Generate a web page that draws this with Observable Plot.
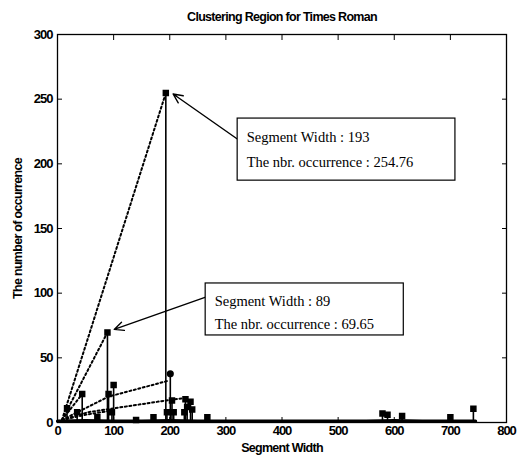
<!DOCTYPE html>
<html>
<head>
<meta charset="utf-8">
<script src="https://cdn.jsdelivr.net/npm/d3@7"></script>
<script src="https://cdn.jsdelivr.net/npm/@observablehq/plot@0.6"></script>
<style>
  body { margin: 0; background: #fff; }
  .narrow text, text.narrow, g.narrow text { letter-spacing: -0.7px; }
  .ticklab text { letter-spacing: -1px; }
</style>
</head>
<body>
<div id="chart"></div>
<script>
// ---- data ----
const title = "Clustering Region for Times Roman";
const xLabel = "Segment Width";
const yLabel = "The number of occurrence";
const xTicks = [0, 100, 200, 300, 400, 500, 600, 700, 800];
const yTicks = [0, 50, 100, 150, 200, 250, 300];

// stems (segment width, occurrence)
const stemX = [193, 89, 201, 44, 35, 17, 71, 91, 100, 97, 195, 204, 228, 237, 231, 240, 226, 207, 171, 267, 579, 588, 614, 700, 741, 140];
const stemY = [254.76, 69.65, 37.6, 22, 8, 11, 4, 22, 29, 8, 8, 17, 18, 16, 12, 10, 8, 8, 4, 4, 7, 6, 5, 4, 10.6, 2];
const stemShape = ["square","square","circle","square","square","square","square","square","square","square","square","square","square","square","square","square","square","square","square","square","square","square","square","square","square","square"];

// near-zero background counts (thick baseline)
const baseX = [0, 50, 100, 150, 200, 250, 300, 350, 400, 450, 500, 550, 600, 650, 700, 745];
const baseY = [1, 1.5, 1, 1, 1.5, 1, 1, 1, 1, 1, 1, 1, 1.5, 1, 1, 1];

// dotted cluster lines: id, x, y
const lineId = [1, 1, 2, 2, 3, 3, 4, 4, 4, 5, 5, 5, 5, 6, 6, 6];
const lineX  = [8, 193, 8, 89, 8, 44, 8, 91, 195, 8, 55, 193, 228, 8, 50, 93];
const lineY  = [2, 254.76, 2, 69.65, 2, 22, 2, 20, 32, 2, 8, 17, 19, 2, 6, 9];

// annotation boxes
const boxX1 = [321, 264];
const boxX2 = [709, 617];
const boxY1 = [235, 107.5];
const boxY2 = [187, 67.3];
const boxTextX = [337, 280];
const boxLine1 = ["Segment Width : 193", "Segment Width : 89"];
const boxLine2 = ["The nbr. occurrence : 254.76", "The nbr. occurrence : 69.65"];
const boxLine1Y = [220.5, 94];
const boxLine2Y = [201.5, 76];

// arrows from boxes to points
const arrX1 = [321, 264];
const arrY1 = [219, 97];
const arrX2 = [206, 101];
const arrY2 = [254, 72];

// ---- build tables ----
const stems = stemX.map((x, i) => ({x, y: stemY[i], shape: stemShape[i]}));
const base = baseX.map((x, i) => ({x, y: baseY[i]}));
const lines = lineId.map((id, i) => ({id, x: lineX[i], y: lineY[i]}));
const boxes = boxX1.map((x1, i) => ({x1, x2: boxX2[i], y1: boxY1[i], y2: boxY2[i], tx: boxTextX[i], l1: boxLine1[i], l2: boxLine2[i], l1y: boxLine1Y[i], l2y: boxLine2Y[i]}));
const arrows = arrX1.map((x1, i) => ({x1, y1: arrY1[i], x2: arrX2[i], y2: arrY2[i]}));

const sans = 'Arial, "Liberation Sans", sans-serif';
const serif = '"Liberation Serif", "Times New Roman", serif';
const tickFont = {fontSize: 13, fontWeight: "bold", className: "ticklab"};

const chart = Plot.plot({
  width: 517,
  height: 463,
  marginLeft: 57,
  marginRight: 11,
  marginTop: 34,
  marginBottom: 41,
  style: {fontFamily: sans, background: "#fff", color: "#000"},
  x: {domain: [0, 800]},
  y: {domain: [0, 300]},
  marks: [
    // inward ticks on four sides
    Plot.axisX(xTicks, {anchor: "bottom", tickSize: -5, text: null, label: null}),
    Plot.axisX(xTicks, {anchor: "top", tickSize: -5, text: null, label: null}),
    Plot.axisY(yTicks, {anchor: "left", tickSize: -5, text: null, label: null}),
    Plot.axisY(yTicks, {anchor: "right", tickSize: -5, text: null, label: null}),
    // tick labels
    Plot.axisX(xTicks, {anchor: "bottom", tickSize: 0, tickPadding: 3, label: null, ...tickFont}),
    Plot.axisY(yTicks, {anchor: "left", tickSize: 0, tickPadding: 5, label: null, ...tickFont}),
    Plot.frame({stroke: "#000", strokeWidth: 1.3}),
    // dotted cluster lines
    Plot.line(lines, {x: "x", y: "y", z: "id", stroke: "#000", strokeWidth: 2, strokeDasharray: "2,2.6"}),
    // baseline of small counts
    Plot.line(base, {x: "x", y: "y", stroke: "#000", strokeWidth: 3.2}),
    // stems
    Plot.ruleX(stems, {x: "x", y1: 0, y2: "y", stroke: "#000", strokeWidth: 1.6}),
    Plot.dot(stems, {x: "x", y: "y", symbol: "shape", r: 2.8, fill: "#000", stroke: "#000"}),
    // annotation arrows & boxes
    Plot.arrow(arrows, {x1: "x1", y1: "y1", x2: "x2", y2: "y2", stroke: "#000", strokeWidth: 1.4, headLength: 11, headAngle: 50}),
    Plot.rect(boxes, {x1: "x1", x2: "x2", y1: "y1", y2: "y2", fill: "#fff", stroke: "#000", strokeWidth: 1.2}),
    Plot.text(boxes, {x: "tx", y: "l1y", text: "l1", textAnchor: "start", fontFamily: serif, fontSize: 14.5, fill: "#000"}),
    Plot.text(boxes, {x: "tx", y: "l2y", text: "l2", textAnchor: "start", fontFamily: serif, fontSize: 14.5, fill: "#000"}),
    // titles
    Plot.text([title], {frameAnchor: "top", dy: -22, fontSize: 12.5, fontWeight: "bold", fill: "#000", className: "narrow"}),
    Plot.text([xLabel], {frameAnchor: "bottom", dy: 29, fontSize: 12.5, fontWeight: "bold", fill: "#000", className: "narrow"}),
    Plot.text([yLabel], {frameAnchor: "left", dx: -40, rotate: -90, textAnchor: "middle", fontSize: 12.5, fontWeight: "bold", fill: "#000", className: "narrow"})
  ]
});
document.getElementById("chart").appendChild(chart);
</script>
</body>
</html>
